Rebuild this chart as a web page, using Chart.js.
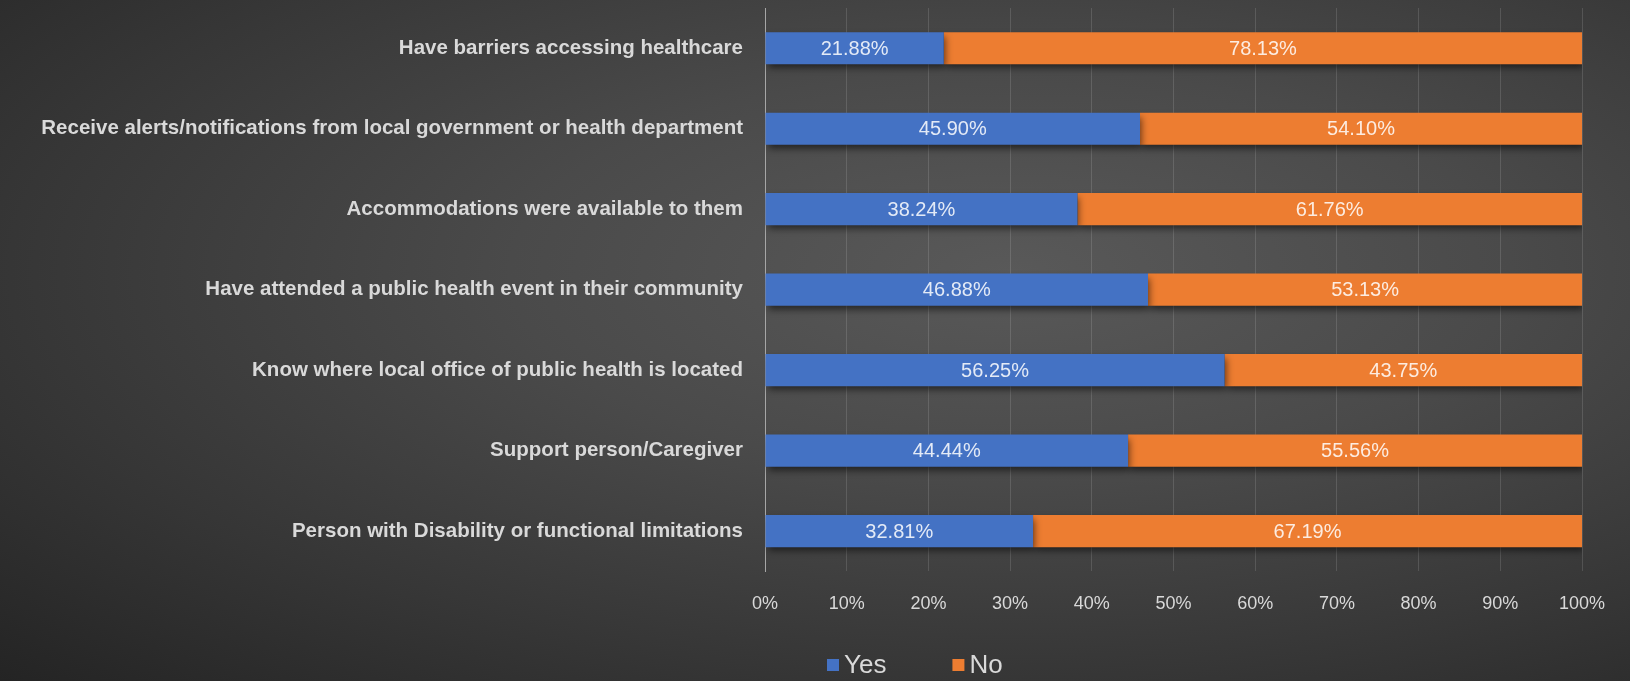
<!DOCTYPE html>
<html>
<head>
<meta charset="utf-8">
<script src="https://cdn.jsdelivr.net/npm/chart.js@4.4.1/dist/chart.umd.min.js"></script>
<style>
  html, body { margin: 0; padding: 0; }
  body {
    width: 1630px; height: 681px; overflow: hidden;
    background: radial-gradient(ellipse farthest-corner at 62% 40%, #595959 0%, #4a4a4a 35%, #363636 70%, #242424 100%);
  }
  #wrap { position: relative; width: 1630px; height: 681px; }
</style>
</head>
<body>
<div id="wrap"><canvas id="chart"></canvas></div>
<script>
// Survey results - Yes / No share per question
const categories = [
  'Have barriers accessing healthcare',
  'Receive alerts/notifications from local government or health department',
  'Accommodations were available to them',
  'Have attended a public health event in their community',
  'Know where local office of public health is located',
  'Support person/Caregiver',
  'Person with Disability or functional limitations'
];
const yesValues = [21.88, 45.90, 38.24, 46.88, 56.25, 44.44, 32.81];
const noValues = [78.13, 54.10, 61.76, 53.13, 43.75, 55.56, 67.19];
const seriesNames = ['Yes', 'No'];

const TEXT = '#d9d9d9';
const FONT = '"Liberation Sans", Arial, sans-serif';

// soft shadow under the bars, like the office style
const barShadow = {
  id: 'barShadow',
  beforeDatasetsDraw(chart) {
    const ctx = chart.ctx;
    ctx.save();
    ctx.shadowColor = 'rgba(0,0,0,0.55)';
    ctx.shadowBlur = 7;
    ctx.shadowOffsetX = 2;
    ctx.shadowOffsetY = 4;
  },
  afterDatasetsDraw(chart) {
    chart.ctx.restore();
  }
};

// percentage labels in the middle of each segment
const valueLabels = {
  id: 'valueLabels',
  afterDatasetsDraw(chart) {
    const ctx = chart.ctx;
    ctx.save();
    ctx.font = '20px ' + FONT;
    ctx.fillStyle = 'rgba(255,255,255,0.85)';
    ctx.textAlign = 'center';
    ctx.textBaseline = 'middle';
    chart.data.datasets.forEach((ds, i) => {
      chart.getDatasetMeta(i).data.forEach((bar, j) => {
        const cx = (bar.x + bar.base) / 2;
        ctx.fillText(ds.data[j].toFixed(2) + '%', cx, bar.y + 1);
      });
    });
    ctx.restore();
  }
};

// legend under the axis, placed like the original one
const bottomLegend = {
  id: 'bottomLegend',
  afterDraw(chart) {
    const ctx = chart.ctx;
    const y = 665;
    let x = 827;
    ctx.save();
    ctx.font = '26px ' + FONT;
    ctx.textBaseline = 'middle';
    chart.data.datasets.forEach(ds => {
      ctx.fillStyle = ds.backgroundColor;
      ctx.fillRect(x, y - 6, 12, 12);
      ctx.fillStyle = TEXT;
      ctx.fillText(ds.label, x + 17, y + 1);
      x += 17 + ctx.measureText(ds.label).width + 66;
    });
    ctx.restore();
  }
};

const ctx = document.getElementById('chart').getContext('2d');
new Chart(ctx, {
  type: 'bar',
  data: {
    labels: categories,
    datasets: [
      { label: seriesNames[0], data: yesValues, backgroundColor: '#4472c4', barPercentage: 0.8, categoryPercentage: 0.5 },
      { label: seriesNames[1], data: noValues, backgroundColor: '#ed7d31', barPercentage: 0.8, categoryPercentage: 0.5 }
    ]
  },
  options: {
    indexAxis: 'y',
    responsive: true,
    maintainAspectRatio: false,
    animation: false,
    layout: { padding: { left: 0, right: 48, top: 8, bottom: 44 } },
    scales: {
      x: {
        stacked: true,
        min: 0,
        max: 100,
        ticks: {
          stepSize: 10,
          color: TEXT,
          padding: 22,
          font: { family: FONT, size: 18 },
          callback: v => v + '%'
        },
        grid: { color: 'rgba(255,255,255,0.13)', lineWidth: 1, drawTicks: false },
        border: { display: false }
      },
      y: {
        stacked: true,
        afterFit: s => { s.width = 765; s.paddingTop = 0; s.paddingBottom = 0; },
        ticks: {
          color: TEXT,
          padding: 22,
          font: { family: FONT, size: 20.5, weight: 'bold' }
        },
        grid: { display: false, drawTicks: false },
        border: { display: true, color: '#a6a6a6', width: 1 }
      }
    },
    plugins: {
      legend: { display: false },
      tooltip: { enabled: false }
    }
  },
  plugins: [barShadow, valueLabels, bottomLegend]
});
</script>
</body>
</html>
